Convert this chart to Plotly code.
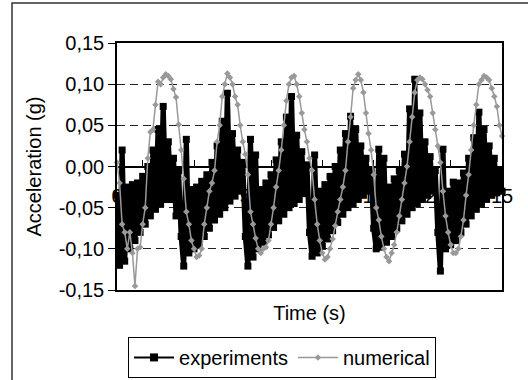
import numpy as np
import plotly.graph_objects as go

# ---------------- data ----------------
# time step 0.1 s, one sample at t=0 then 6 cycles of 25 samples
exp_start = [-0.035]
exp_c0 = [-0.120, 0.020, -0.115, -0.025, -0.100, -0.022, -0.090, -0.020, -0.080, -0.012,
          -0.070, 0.000, -0.060, 0.020, -0.052, 0.045, -0.045, 0.073, -0.040, 0.030,
          -0.040, 0.010, -0.060, -0.005, -0.085]
exp_c1 = [-0.121, 0.033, -0.105, -0.028, -0.100, -0.025, -0.095, -0.018, -0.085, -0.010,
          -0.075, 0.005, -0.065, 0.025, -0.058, 0.055, -0.050, 0.089, -0.042, 0.040,
          -0.036, 0.020, -0.030, 0.005, -0.085]
exp_c2 = [-0.121, 0.033, -0.110, 0.014, -0.100, -0.028, -0.092, -0.020, -0.083, -0.010,
          -0.074, 0.008, -0.066, 0.030, -0.058, 0.060, -0.050, 0.085, -0.045, 0.038,
          -0.040, 0.018, -0.033, 0.002, -0.080]
exp_c3 = [-0.109, 0.014, -0.105, -0.030, -0.097, -0.022, -0.088, -0.012, -0.078, 0.000,
          -0.068, 0.020, -0.058, 0.040, -0.050, 0.061, -0.045, 0.045, -0.040, 0.025,
          -0.035, 0.010, -0.030, -0.005, -0.075]
exp_c4 = [-0.100, 0.021, -0.098, 0.010, -0.092, -0.025, -0.085, -0.015, -0.075, -0.005,
          -0.066, 0.015, -0.058, 0.070, -0.050, 0.106, -0.045, 0.065, -0.040, 0.030,
          -0.035, 0.012, -0.030, -0.005, -0.080]
exp_c5 = [-0.127, 0.021, -0.100, -0.030, -0.095, -0.019, -0.090, -0.020, -0.080, -0.008,
          -0.070, 0.010, -0.060, 0.035, -0.052, 0.066, -0.046, 0.045, -0.040, 0.025,
          -0.035, 0.010, -0.032, -0.005, -0.030]

num_start = [0.005]
num_c0 = [-0.020, -0.070, -0.080, -0.100, -0.080, -0.105, -0.145, -0.100, -0.098, -0.070,
          -0.050, 0.010, 0.042, 0.045, 0.075, 0.103, 0.100, 0.108, 0.112, 0.110,
          0.106, 0.094, 0.084, 0.051, 0.020]
num_c1 = [-0.015, -0.055, -0.070, -0.090, -0.100, -0.110, -0.108, -0.100, -0.070, -0.050,
          -0.030, -0.020, -0.005, 0.030, 0.050, 0.085, 0.100, 0.113, 0.108, 0.100,
          0.085, 0.075, 0.050, 0.030, 0.015]
num_c2 = [-0.010, -0.055, -0.070, -0.087, -0.100, -0.105, -0.100, -0.098, -0.090, -0.070,
          -0.050, -0.025, -0.005, 0.020, 0.050, 0.080, 0.100, 0.108, 0.110, 0.100,
          0.085, 0.065, 0.045, 0.030, 0.010]
num_c3 = [-0.005, -0.040, -0.070, -0.090, -0.105, -0.113, -0.110, -0.100, -0.088, -0.072,
          -0.055, -0.040, -0.025, -0.005, 0.030, 0.060, 0.095, 0.105, 0.112, 0.105,
          0.090, 0.065, 0.040, 0.020, -0.010]
num_c4 = [-0.050, -0.065, -0.085, -0.100, -0.110, -0.115, -0.105, -0.095, -0.080, -0.060,
          -0.040, -0.020, 0.000, 0.030, 0.060, 0.090, 0.105, 0.108, 0.106, 0.100,
          0.093, 0.085, 0.065, 0.045, 0.025]
num_c5 = [0.005, -0.030, -0.060, -0.080, -0.095, -0.105, -0.105, -0.100, -0.085, -0.065,
          -0.035, -0.010, 0.020, 0.050, 0.075, 0.100, 0.105, 0.110, 0.108, 0.105,
          0.095, 0.085, 0.073, 0.050, 0.037]

experiments = exp_start + exp_c0 + exp_c1 + exp_c2 + exp_c3 + exp_c4 + exp_c5
numerical = num_start + num_c0 + num_c1 + num_c2 + num_c3 + num_c4 + num_c5
dt = 0.1
time = np.round(np.arange(len(experiments)) * dt, 2)

x_ticks = list(range(0, 16))
x_ticktext = [str(v) for v in x_ticks]
y_ticks = [-0.15, -0.10, -0.05, 0.0, 0.05, 0.10, 0.15]
y_ticktext = ["-0,15", "-0,10", "-0,05", "0,00", "0,05", "0,10", "0,15"]

FONT = "Liberation Sans, Arial, sans-serif"
FS = 20

fig = go.Figure()
fig.add_trace(go.Scatter(
    x=time, y=experiments, mode="lines+markers", name="experiments", showlegend=False,
    line=dict(color="black", width=5.2, simplify=False),
    marker=dict(symbol="square", size=7, color="black"),
    cliponaxis=False, hoverinfo="skip"))
fig.add_trace(go.Scatter(
    x=time, y=numerical, mode="lines+markers", name="numerical", showlegend=False,
    line=dict(color="#999999", width=1.5, simplify=False),
    marker=dict(symbol="diamond", size=5, color="#999999"),
    cliponaxis=False, hoverinfo="skip"))
# legend entries
fig.add_trace(go.Scatter(
    x=[None], y=[None], mode="lines+markers", name="experiments",
    line=dict(color="black", width=2),
    marker=dict(symbol="square", size=8, color="black")))
fig.add_trace(go.Scatter(
    x=[None], y=[None], mode="lines+markers", name="numerical",
    line=dict(color="#999999", width=1.5),
    marker=dict(symbol="diamond", size=5, color="#999999")))
# carrier for the frame / title axis
fig.add_trace(go.Scatter(x=[0, 15], y=[None, None], xaxis="x2", mode="lines",
                         showlegend=False, hoverinfo="skip"))

fig.update_layout(
    width=528, height=380,
    margin=dict(l=117, r=26, t=43, b=90, autoexpand=False),
    paper_bgcolor="white", plot_bgcolor="white",
    font=dict(family=FONT, size=FS, color="black"),
    showlegend=True,
    legend=dict(orientation="h", x=0.4286, xanchor="center", y=-0.19, yanchor="top",
                bordercolor="black", borderwidth=1, bgcolor="white",
                font=dict(family=FONT, size=FS, color="black"),
                itemwidth=40, tracegroupgap=0),
    xaxis=dict(
        range=[0, 15], anchor="free", position=0.5,
        tickmode="array", tickvals=x_ticks, ticktext=x_ticktext,
        ticks="inside", ticklen=6, tickcolor="black", tickwidth=1,
        showline=True, linecolor="black", linewidth=1.5,
        showgrid=False, zeroline=False, layer="below traces",
        ticklabelstandoff=12,
        tickfont=dict(family=FONT, size=FS, color="black")),
    xaxis2=dict(
        range=[0, 15], overlaying="x", anchor="y", side="bottom",
        showline=True, mirror=True, linecolor="black", linewidth=1.5,
        ticks="", showticklabels=False, showgrid=False, zeroline=False,
        title=dict(text="Time (s)", standoff=15, font=dict(family=FONT, size=FS, color="black"))),
    yaxis=dict(
        range=[-0.15, 0.15], tickmode="array", tickvals=y_ticks, ticktext=y_ticktext,
        ticks="outside", ticklen=7, tickcolor="black", tickwidth=1,
        showline=True, mirror=True, linecolor="black", linewidth=1.5,
        showgrid=True, gridcolor="#222222", gridwidth=1, griddash="8px,5px",
        zeroline=False,
        tickfont=dict(family=FONT, size=FS, color="black"),
        title=dict(text="Acceleration (g)", standoff=12, font=dict(family=FONT, size=FS, color="black"))),
)

# outer chart border
fig.add_shape(type="rect", xref="paper", yref="paper",
              x0=-0.2727, x1=1.2, y0=-0.6, y1=1.162,
              line=dict(color="#333333", width=1.5), fillcolor="rgba(0,0,0,0)", layer="above")

fig.write_html("out.html", config={"displayModeBar": False},
               post_script="document.body.style.margin='0';")
